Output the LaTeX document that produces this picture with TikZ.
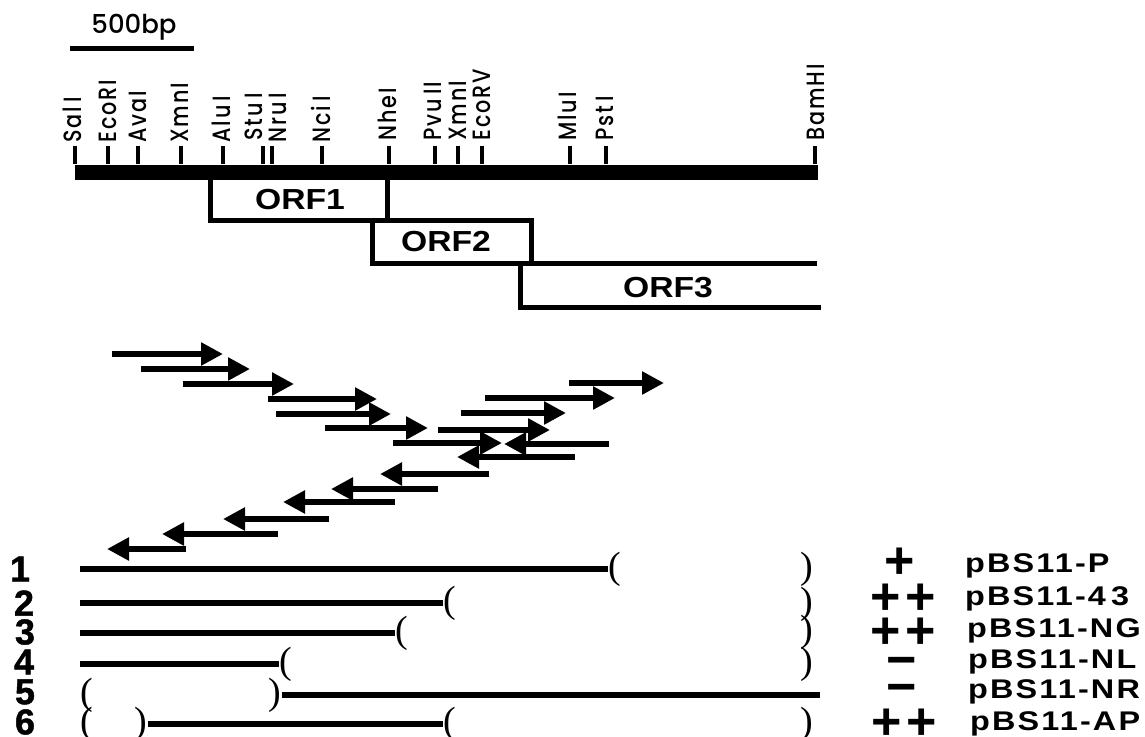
\documentclass[tikz,border=0pt]{standalone}
\usepackage{fontspec}
\usetikzlibrary{arrows.meta}
\newfontfamily\sitefont[UprightFont=* Medium,LetterSpace=8,FakeStretch=0.83]{Poppins}
\newfontfamily\scalefont[UprightFont=* Medium]{Poppins}
\newfontfamily\headfont[FakeStretch=1.16]{Liberation Sans Bold}
\newfontfamily\clonefont[FakeStretch=1.2,LetterSpace=8]{Liberation Sans Bold}
\newfontfamily\lanefont[FakeBold=1.2]{Liberation Sans Bold}
\newfontfamily\markfont{Liberation Sans Bold}
\newfontfamily\cutfont{Liberation Serif}
\begin{document}
\begin{tikzpicture}[
    x=1pt, y=-1pt,
    mapbar/.style={rectangle, fill=black, minimum width=743pt, minimum height=15pt, inner sep=0pt},
    site/.style={rotate=90, anchor=west, inner sep=2pt, text height=17pt, text depth=0pt, font=\sitefont\fontsize{25}{25}\selectfont},
    sitetick/.style={line width=3.4pt},
    orfline/.style={line width=5pt},
    orflabel/.style={inner sep=0pt, font=\headfont\fontsize{29}{29}\selectfont},
    fwd/.style={line width=5.6pt, -{Triangle[length=22pt,width=22pt]}},
    clone/.style={line width=5.2pt},
    lane/.style={inner sep=0pt, font=\lanefont\fontsize{36}{36}\selectfont},
    cut/.style={inner sep=0pt, font=\cutfont\fontsize{38}{38}\selectfont},
    activity/.style={inner sep=0pt, font=\markfont\fontsize{52}{52}\selectfont},
    plasmid/.style={anchor=base west, inner sep=0pt, font=\clonefont\fontsize{27}{27}\selectfont}
  ]
  \useasboundingbox (0,0) rectangle (1145,736);
  % scale
  \node[inner sep=0pt, anchor=base, font=\scalefont\fontsize{26}{26}\selectfont] (scale) at (134,33) {500bp};
  \coordinate (sl) at (70,48);
  \coordinate (sr) at (194,48);
  \draw[line width=5pt] (sl) -- (sr);
  % map
  \node[mapbar] (map) at (446.5,172) {};
  \node[site] (SalI) at (73,145) {Sal\,I};
  \node[site] (EcoRI) at (108,145) {EcoRI};
  \node[site] (AvaI) at (138,145) {AvaI};
  \node[site] (XmnI) at (180,145) {XmnI};
  \node[site] (AluI) at (222,145) {Alu\,I};
  \node[site] (StuI) at (254,143) {Stu\,I};
  \node[site] (NruI) at (278,145) {Nru\,I};
  \node[site] (NciI) at (322,145) {Nci\,I};
  \node[site] (NheI) at (388,143) {NheI};
  \node[site] (PvuII) at (433,143) {Pvu\,II};
  \node[site] (XmnIb) at (458,143) {XmnI};
  \node[site] (EcoRV) at (482,143) {EcoRV};
  \node[site] (MluI) at (568,143) {MluI};
  \node[site] (PstI) at (605,143) {Pst\,I};
  \node[site] (BamHI) at (816,143) {BamHI};
  \coordinate (tSal) at (75,146);
  \coordinate (tEcoRI) at (108,146);
  \coordinate (tAva) at (138,146);
  \coordinate (tXmn) at (181,146);
  \coordinate (tAlu) at (223,146);
  \coordinate (tStu) at (263,146);
  \coordinate (tNru) at (272,146);
  \coordinate (tNci) at (322,146);
  \coordinate (tNhe) at (389,146);
  \coordinate (tPvu) at (435,146);
  \coordinate (tXmnb) at (458,146);
  \coordinate (tEcoRV) at (482,146);
  \coordinate (tMlu) at (570,146);
  \coordinate (tPst) at (606,146);
  \coordinate (tBam) at (815,146);
  \draw[sitetick] (tSal) -- (tSal |- map.north);
  \draw[sitetick] (tEcoRI) -- (tEcoRI |- map.north);
  \draw[sitetick] (tAva) -- (tAva |- map.north);
  \draw[sitetick] (tXmn) -- (tXmn |- map.north);
  \draw[sitetick] (tAlu) -- (tAlu |- map.north);
  \draw[sitetick] (tStu) -- (tStu |- map.north);
  \draw[sitetick] (tNru) -- (tNru |- map.north);
  \draw[sitetick] (tNci) -- (tNci |- map.north);
  \draw[sitetick] (tNhe) -- (tNhe |- map.north);
  \draw[sitetick] (tPvu) -- (tPvu |- map.north);
  \draw[sitetick] (tXmnb) -- (tXmnb |- map.north);
  \draw[sitetick] (tEcoRV) -- (tEcoRV |- map.north);
  \draw[sitetick] (tMlu) -- (tMlu |- map.north);
  \draw[sitetick] (tPst) -- (tPst |- map.north);
  \draw[sitetick] (tBam) -- (tBam |- map.north);
  % reading frames
  \coordinate (o1a) at (210,178);
  \coordinate (o1b) at (387,220);
  \coordinate (o1c) at (387,178);
  \coordinate (o2a) at (372,220);
  \coordinate (o2b) at (531,263);
  \coordinate (o2c) at (817,263);
  \coordinate (o3a) at (520,263);
  \coordinate (o3b) at (821,307);
  \draw[orfline] (o1a) |- (o1b) -- (o1c);
  \draw[orfline] (o2a) rectangle (o2b);
  \draw[orfline] (o2b) -- (o2c);
  \draw[orfline] (o3a) |- (o3b);
  \node[orflabel] (ORF1) at (300,200) {ORF1};
  \node[orflabel] (ORF2) at (446,242) {ORF2};
  \node[orflabel] (ORF3) at (668,288) {ORF3};
  % sequenced fragments
  \coordinate (f1a) at (112,354);  \coordinate (f1b) at (223,354);
  \coordinate (f2a) at (141,369);  \coordinate (f2b) at (250,369);
  \coordinate (f3a) at (183,384);  \coordinate (f3b) at (294,384);
  \coordinate (f4a) at (268,399);  \coordinate (f4b) at (377,399);
  \coordinate (f5a) at (276,414);  \coordinate (f5b) at (391,414);
  \coordinate (f6a) at (325,428);  \coordinate (f6b) at (428,428);
  \coordinate (f7a) at (438,430);  \coordinate (f7b) at (550,430);
  \coordinate (f8a) at (393,443);  \coordinate (f8b) at (502,443);
  \coordinate (f9a) at (461,413);  \coordinate (f9b) at (566,413);
  \coordinate (f10a) at (485,398);  \coordinate (f10b) at (615,398);
  \coordinate (f11a) at (569,383);  \coordinate (f11b) at (664,383);
  \coordinate (f12a) at (609,444);  \coordinate (f12b) at (504,444);
  \coordinate (f13a) at (575,457);  \coordinate (f13b) at (457,457);
  \coordinate (f14a) at (489,474);  \coordinate (f14b) at (380,474);
  \coordinate (f15a) at (438,489);  \coordinate (f15b) at (331,489);
  \coordinate (f16a) at (395,502);  \coordinate (f16b) at (283,502);
  \coordinate (f17a) at (329,519);  \coordinate (f17b) at (223,519);
  \coordinate (f18a) at (278,534);  \coordinate (f18b) at (162,534);
  \coordinate (f19a) at (186,549);  \coordinate (f19b) at (107,549);
  \draw[fwd] (f1a) -- (f1b);
  \draw[fwd] (f2a) -- (f2b);
  \draw[fwd] (f3a) -- (f3b);
  \draw[fwd] (f4a) -- (f4b);
  \draw[fwd] (f5a) -- (f5b);
  \draw[fwd] (f6a) -- (f6b);
  \draw[fwd] (f7a) -- (f7b);
  \draw[fwd] (f8a) -- (f8b);
  \draw[fwd] (f9a) -- (f9b);
  \draw[fwd] (f10a) -- (f10b);
  \draw[fwd] (f11a) -- (f11b);
  \draw[fwd] (f12a) -- (f12b);
  \draw[fwd] (f13a) -- (f13b);
  \draw[fwd] (f14a) -- (f14b);
  \draw[fwd] (f15a) -- (f15b);
  \draw[fwd] (f16a) -- (f16b);
  \draw[fwd] (f17a) -- (f17b);
  \draw[fwd] (f18a) -- (f18b);
  \draw[fwd] (f19a) -- (f19b);
  % deletion clones
  \node[lane] (n1) at (20,569) {1};
  \node[lane] (n2) at (24,603) {2};
  \node[lane] (n3) at (25,632) {3};
  \node[lane] (n4) at (24,662) {4};
  \node[lane] (n5) at (25,692) {5};
  \node[lane] (n6) at (25,722) {6};
  \coordinate (c1) at (80,569);
  \coordinate (c2) at (80,603);
  \coordinate (c3) at (80,633);
  \coordinate (c4) at (80,664);
  \coordinate (c5) at (820,695);
  \node[cut] (l1) at (615,569) {(};
  \node[cut] (l2) at (450,603) {(};
  \node[cut] (l3) at (402,633) {(};
  \node[cut] (l4) at (286,664) {(};
  \node[cut] (l5) at (87,695) {(};
  \node[cut] (l6) at (87,724) {(};
  \node[cut] (i5) at (275,695) {)};
  \node[cut] (i6) at (141,724) {)};
  \node[cut] (j6) at (450,724) {(};
  \node[cut] (r1) at (807,569) {)};
  \node[cut] (r2) at (807,604) {)};
  \node[cut] (r3) at (807,632) {)};
  \node[cut] (r4) at (807,664) {)};
  \node[cut] (r6) at (807,724) {)};
  \draw[clone] (c1) -- (l1.west);
  \draw[clone] (c2) -- (l2.west);
  \draw[clone] (c3) -- (l3.west);
  \draw[clone] (c4) -- (l4.west);
  \draw[clone] (i5.east) -- (c5);
  \draw[clone] (i6.east) -- (j6.west);
  % activity
  \node[activity] (a1) at (900,563) {+};
  \node[activity] (a2) at (903,599) {+\kern5pt+};
  \node[activity] (a3) at (903,633) {+\kern5pt+};
  \node[activity] (a4) at (902,667) {−};
  \node[activity] (a5) at (902,694) {−};
  \node[activity] (a6) at (904,724) {+\kern5pt+};
  \node[plasmid] (p1) at (965,572) {pBS11-P};
  \node[plasmid] (p2) at (965,605) {pBS11-4\kern5pt3};
  \node[plasmid] (p3) at (967,637) {pBS11-NG};
  \node[plasmid] (p4) at (968,668) {pBS11-NL};
  \node[plasmid] (p5) at (968,698) {pBS11-NR};
  \node[plasmid] (p6) at (970,730) {pBS11-AP};
\end{tikzpicture}
\end{document}
